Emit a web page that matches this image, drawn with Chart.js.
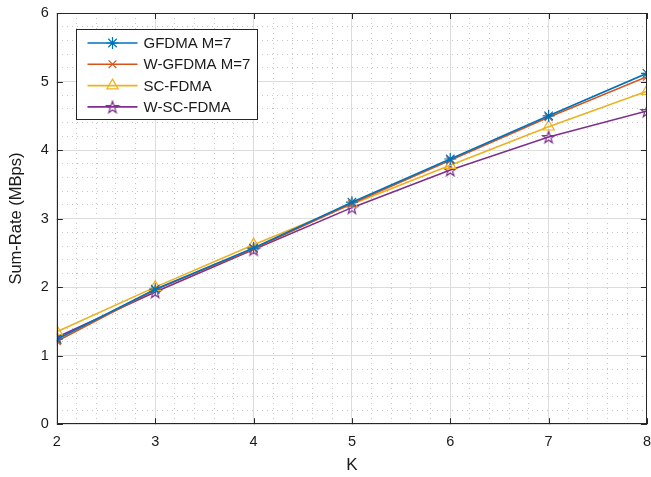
<!DOCTYPE html>
<html>
<head>
<meta charset="utf-8">
<script src="https://cdn.jsdelivr.net/npm/chart.js@4.4.0/dist/chart.umd.min.js"></script>
<style>
  html, body { margin: 0; padding: 0; background: #fff; }
  #wrap { width: 651px; height: 477px; }
</style>
</head>
<body>
<div id="wrap"><canvas id="rateChart"></canvas></div>
<script>
const kValues = [2, 3, 4, 5, 6, 7, 8];
const gfdmaRate = [1.24, 1.97, 2.57, 3.24, 3.87, 4.50, 5.12];
const wGfdmaRate = [1.21, 1.96, 2.56, 3.22, 3.85, 4.48, 5.07];
const scFdmaRate = [1.35, 2.00, 2.62, 3.21, 3.78, 4.34, 4.86];
const wScFdmaRate = [1.27, 1.93, 2.55, 3.16, 3.71, 4.19, 4.57];
const seriesNames = ['GFDMA M=7', 'W-GFDMA M=7', 'SC-FDMA', 'W-SC-FDMA'];

const FONT = "'Liberation Sans', Arial, sans-serif";
const isMajor = (v) => Math.abs(v - Math.round(v)) < 1e-6;

// matlab style pentagram marker
function makePentagram(color) {
  const c = document.createElement('canvas');
  c.width = 16;
  c.height = 16;
  const g = c.getContext('2d');
  g.strokeStyle = color;
  g.lineWidth = 1.2;
  g.beginPath();
  for (let i = 0; i < 10; i++) {
    const r = i % 2 ? 2.5 : 6.3;
    const ang = -Math.PI / 2 + i * Math.PI / 5;
    g.lineTo(8 + r * Math.cos(ang), 8.6 + r * Math.sin(ang));
  }
  g.closePath();
  g.stroke();
  return c;
}

const toPoints = (vals) => kValues.map((k, i) => ({x: k, y: vals[i]}));

const lineSet = (label, vals, color, style, radius) => ({
  label: label,
  data: toPoints(vals),
  borderColor: color,
  backgroundColor: 'rgba(0,0,0,0)',
  borderWidth: 1.6,
  pointStyle: style,
  pointRadius: radius,
  pointBorderWidth: 1.2,
  pointBorderColor: color,
  pointBackgroundColor: 'rgba(0,0,0,0)',
  tension: 0
});

const frameAndLegend = {
  id: 'frameAndLegend',
  afterDatasetsDraw(chart) {
    const {ctx, chartArea: a, scales: {x, y}} = chart;
    ctx.save();
    ctx.strokeStyle = '#262626';
    ctx.lineWidth = 1;
    ctx.strokeRect(Math.round(a.left) + 0.5, Math.round(a.top) + 0.5,
      Math.round(a.right - a.left) - 1, Math.round(a.bottom - a.top) - 1);

    // inward tick marks
    const tl = 6;
    ctx.beginPath();
    for (let k = 2; k <= 8; k++) {
      const px = Math.round(x.getPixelForValue(k)) + 0.5;
      ctx.moveTo(px, a.bottom); ctx.lineTo(px, a.bottom - tl);
      ctx.moveTo(px, a.top); ctx.lineTo(px, a.top + tl);
    }
    for (let v = 0; v <= 6; v++) {
      const py = Math.round(y.getPixelForValue(v)) + 0.5;
      ctx.moveTo(a.left, py); ctx.lineTo(a.left + tl, py);
      ctx.moveTo(a.right, py); ctx.lineTo(a.right - tl, py);
    }
    ctx.stroke();

    // legend box
    const bx = Math.round(a.left) + 19.5;
    const by = Math.round(a.top) + 16.5;
    ctx.fillStyle = '#fff';
    ctx.fillRect(bx, by, 181, 90);
    ctx.strokeStyle = '#262626';
    ctx.strokeRect(bx, by, 181, 90);
    ctx.font = '15px ' + FONT;
    ctx.textBaseline = 'middle';
    chart.data.datasets.forEach((ds, i) => {
      const ry = by + 13.5 + i * 21.3;
      ctx.strokeStyle = ds.borderColor;
      ctx.lineWidth = 1.6;
      ctx.beginPath();
      ctx.moveTo(bx + 11, ry);
      ctx.lineTo(bx + 61, ry);
      ctx.stroke();
      ctx.fillStyle = 'rgba(0,0,0,0)';
      ctx.lineWidth = 1.2;
      Chart.helpers.drawPoint(ctx, {
        pointStyle: ds.pointStyle, radius: ds.pointRadius, borderWidth: 1.2, rotation: 0
      }, bx + 36, ry);
      ctx.fillStyle = '#1a1a1a';
      ctx.fillText(ds.label, bx + 67, ry + 1);
    });
    ctx.restore();
  }
};

const rateCtx = document.getElementById('rateChart').getContext('2d');
const rateChart = new Chart(rateCtx, {
  type: 'line',
  data: {
    datasets: [
      lineSet(seriesNames[0], gfdmaRate, '#0072BD', 'star', 6),
      lineSet(seriesNames[1], wGfdmaRate, '#D95319', 'crossRot', 5.5),
      lineSet(seriesNames[2], scFdmaRate, '#EDB120', 'triangle', 6.5),
      lineSet(seriesNames[3], wScFdmaRate, '#7E2F8E', makePentagram('#7E2F8E'), 6)
    ]
  },
  options: {
    responsive: true,
    maintainAspectRatio: false,
    animation: false,
    layout: {
      autoPadding: false,
      padding: {left: 3, right: 3, top: 13, bottom: 0}
    },
    plugins: {
      legend: {display: false},
      tooltip: {enabled: false}
    },
    scales: {
      x: {
        type: 'linear',
        min: 2,
        max: 8,
        ticks: {
          stepSize: 0.2,
          autoSkip: false,
          maxTicksLimit: 100,
          maxRotation: 0,
          padding: 0,
          color: '#1a1a1a',
          font: {size: 14.5, family: FONT},
          callback: (v) => isMajor(v) ? String(Math.round(v)) : ''
        },
        grid: {
          drawTicks: true,
          tickLength: 9,
          tickColor: 'rgba(0,0,0,0)',
          lineWidth: 1,
          color: (c) => (c.tick && isMajor(c.tick.value)) ? '#dcdcdc' : '#c6c6c6'
        },
        border: {
          display: false,
          dash: (c) => (c.tick && !isMajor(c.tick.value)) ? [1, 4] : []
        },
        title: {
          display: true,
          text: 'K',
          color: '#1a1a1a',
          font: {size: 17, family: FONT},
          padding: {top: 5, bottom: 1}
        }
      },
      y: {
        min: 0,
        max: 6,
        ticks: {
          stepSize: 0.2,
          autoSkip: false,
          maxTicksLimit: 100,
          padding: 0,
          color: '#1a1a1a',
          font: {size: 14.5, family: FONT},
          callback: (v) => isMajor(v) ? String(Math.round(v)) : ''
        },
        grid: {
          drawTicks: true,
          tickLength: 8,
          tickColor: 'rgba(0,0,0,0)',
          lineWidth: 1,
          color: (c) => (c.tick && isMajor(c.tick.value)) ? '#dcdcdc' : '#c6c6c6'
        },
        border: {
          display: false,
          dash: (c) => (c.tick && !isMajor(c.tick.value)) ? [1, 4] : []
        },
        title: {
          display: true,
          text: 'Sum-Rate (MBps)',
          color: '#1a1a1a',
          font: {size: 16.5, family: FONT},
          padding: {top: 4, bottom: 14}
        }
      }
    }
  },
  plugins: [frameAndLegend]
});
</script>
</body>
</html>
